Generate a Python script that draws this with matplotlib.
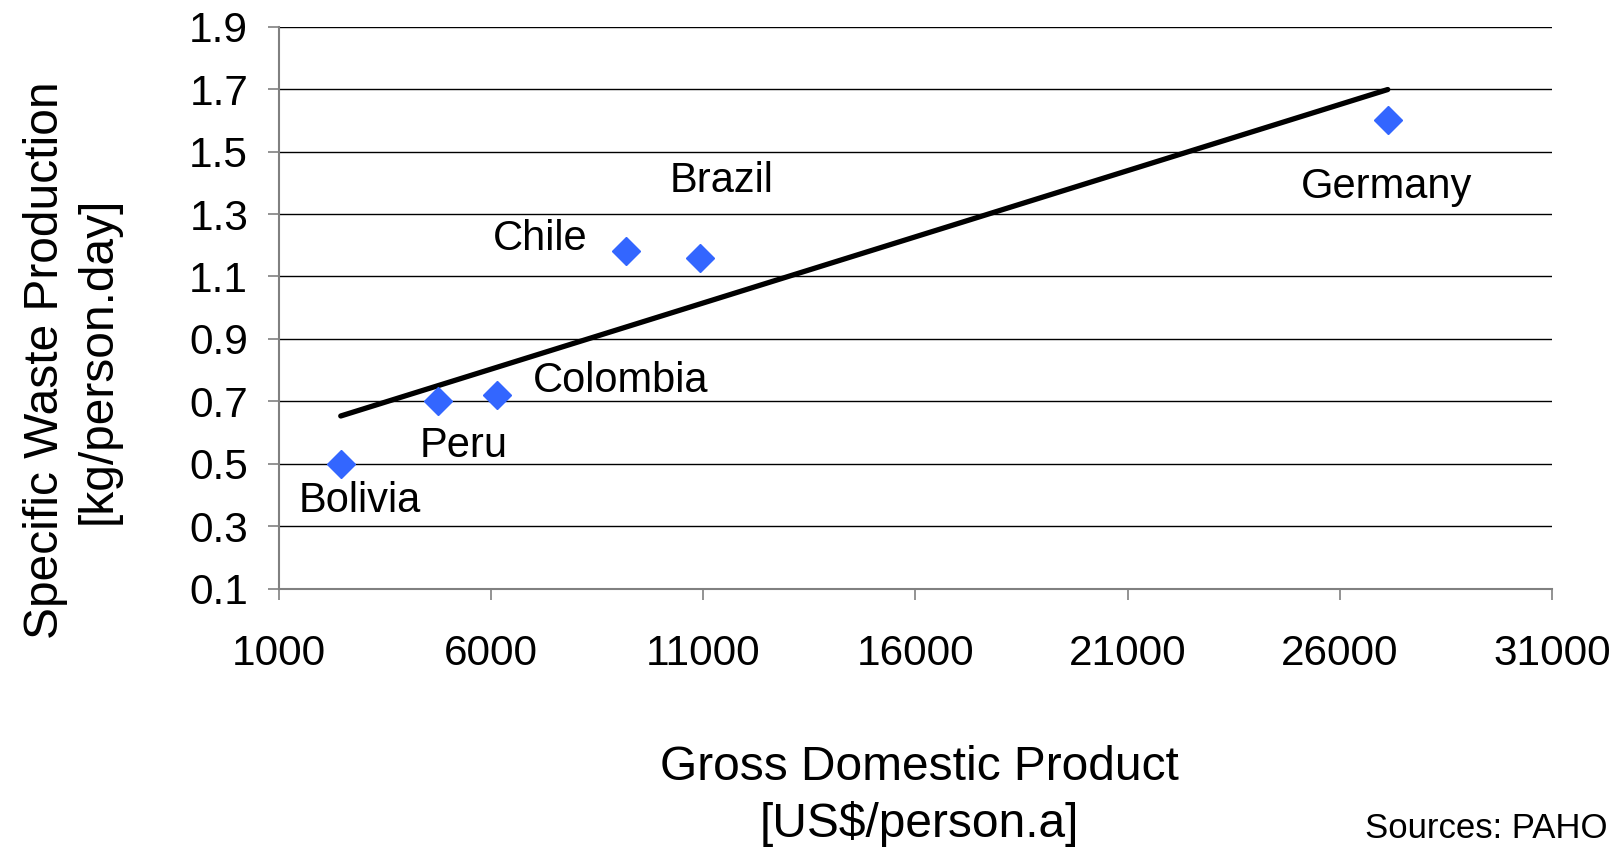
import numpy as np
from matplotlib import pyplot as plt

plt.rcParams['font.family'] = ['Liberation Sans', 'DejaVu Sans']

countries = ["Bolivia", "Peru", "Colombia", "Chile", "Brazil", "Germany"]
gdp = [2460, 4750, 6130, 9175, 10930, 27130]
waste = [0.50, 0.70, 0.72, 1.18, 1.16, 1.60]
# label offsets in pixels from each marker
label_offsets = [(19, -37), (26, -45), (124, 14), (-86, 12), (21, 77), (-1, -67)]

xticks = list(range(1000, 31001, 5000))
yticks = [0.1, 0.3, 0.5, 0.7, 0.9, 1.1, 1.3, 1.5, 1.7, 1.9]

fig = plt.figure(figsize=(16.19, 8.48), dpi=100)
ax = fig.add_axes([0.1722, 0.306, 0.7864, 0.6624])

for y in yticks[1:]:
    ax.axhline(y, color='black', lw=1.0, zorder=1)

# linear trend line like the spreadsheet one
slope, icpt = np.polyfit(gdp, waste, 1)
tx = np.array([min(gdp), max(gdp)])
ax.plot(tx, slope * tx + icpt, color='black', lw=3.8, solid_capstyle='round', zorder=2)

ax.plot(gdp, waste, linestyle='none', marker='D', markersize=14,
        color='#3366FF', markeredgecolor='#3366FF', zorder=3)

for name, x, y, off in zip(countries, gdp, waste, label_offsets):
    ax.annotate(name, (x, y), xytext=off, textcoords='offset pixels',
                ha='center', va='center', fontsize=30)

ax.set_xlim(1000, 31000)
ax.set_ylim(0.1, 1.9)
ax.set_xticks(xticks)
ax.set_yticks(yticks)
ax.set_yticklabels(["%.1f" % v for v in yticks])
ax.tick_params(axis='both', labelsize=30.5, length=8, width=1.2, color='#808080')
ax.tick_params(axis='y', pad=14)
ax.tick_params(axis='x', pad=25)
for s in ['top', 'right']:
    ax.spines[s].set_visible(False)
for s in ['left', 'bottom']:
    ax.spines[s].set_color('#808080')
    ax.spines[s].set_linewidth(1.5)

fig.text(72 / 1619, 1 - 360 / 848, "Specific Waste Production\n[kg/person.day]",
         rotation=90, ha='center', va='center', fontsize=34.5, linespacing=1.2)
fig.text(919 / 1619, 1 - 796 / 848, "Gross Domestic Product\n[US$/person.a]",
         ha='center', va='center', fontsize=34.5, linespacing=1.3)
fig.text(1365 / 1619, 10 / 848, "Sources: PAHO", ha='left', va='baseline', fontsize=25)

plt.savefig("out.png", dpi=100)
plt.close()
